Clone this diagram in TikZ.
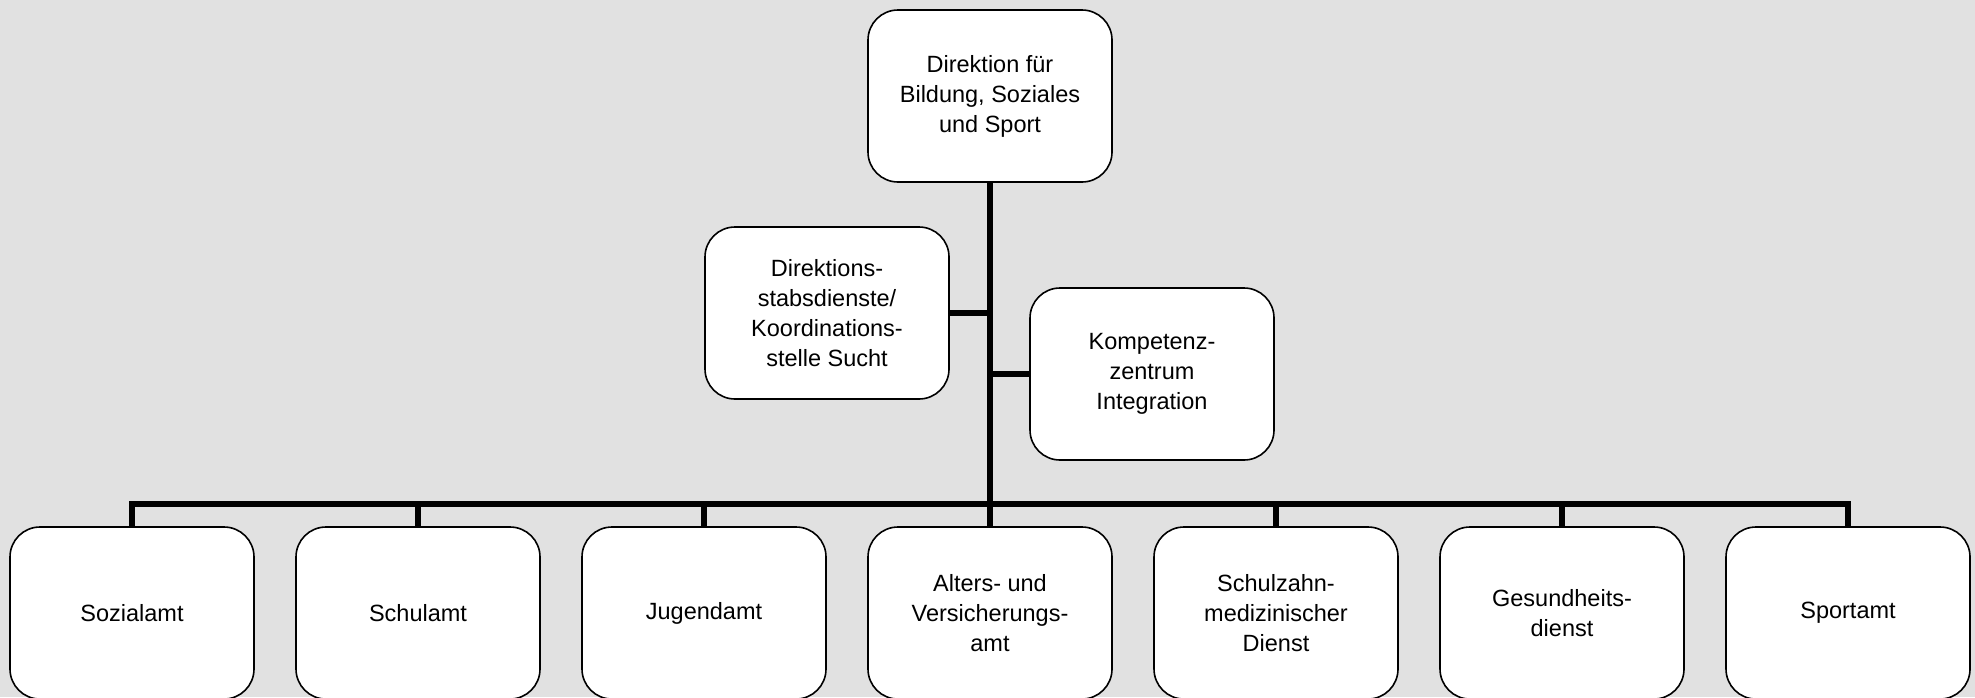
\documentclass[tikz,border=0pt]{standalone}
\usepackage{fontspec}
\setmainfont{Liberation Sans}
\usepackage{tikz}
\usetikzlibrary{positioning, calc}
\definecolor{ink}{HTML}{000000}
\definecolor{canvas}{HTML}{E1E1E1}

\begin{document}
\begin{tikzpicture}[
  x=1pt, y=-1pt,
  unit/.style={draw=ink, fill=white, rectangle, rounded corners=30pt, minimum width=244pt, minimum height=172pt, align=center, line width=1.6pt, inner sep=0pt, font=\fontsize{23.5pt}{30pt}\selectfont},
  link/.style={draw=ink, line width=5.5pt, line join=miter}
]
\fill[canvas] (0,0) rectangle (1975,697);
\useasboundingbox (0,0) rectangle (1975,697);

\node[unit] (direktion) at (990,96) {Direktion für\\Bildung, Soziales\\und Sport};
\node[unit] (stab) at (827,313) {Direktions-\\stabsdienste/\\Koordinations-\\stelle Sucht};
\node[unit] (integration) at (1152,374) {Kompetenz-\\zentrum\\Integration};

\node[unit] (sozial) at (132,613) {Sozialamt};
\node[unit] (schule) at (418,613) {Schulamt};
\node[unit] (jugend) at (704,613) {Jugendamt};
\node[unit] (alter) at (990,613) {Alters- und\\Versicherungs-\\amt};
\node[unit] (zahn) at (1276,613) {Schulzahn-\\medizinischer\\Dienst};
\node[unit] (gesund) at (1562,613) {Gesundheits-\\dienst};
\node[unit] (sport) at (1848,613) {Sportamt};

\coordinate (bus) at (990,504);

\draw[link] (direktion.south) -- (direktion.south |- bus);
\draw[link] (stab.east) -- (stab.east -| direktion.south);
\draw[link] (integration.west) -- (integration.west -| direktion.south);
\draw[link] (sozial.north) -- (sozial.north |- bus) -- (sport.north |- bus) -- (sport.north);
\draw[link] (schule.north |- bus) -- (schule.north);
\draw[link] (jugend.north |- bus) -- (jugend.north);
\draw[link] (alter.north |- bus) -- (alter.north);
\draw[link] (zahn.north |- bus) -- (zahn.north);
\draw[link] (gesund.north |- bus) -- (gesund.north);
\end{tikzpicture}
\end{document}
